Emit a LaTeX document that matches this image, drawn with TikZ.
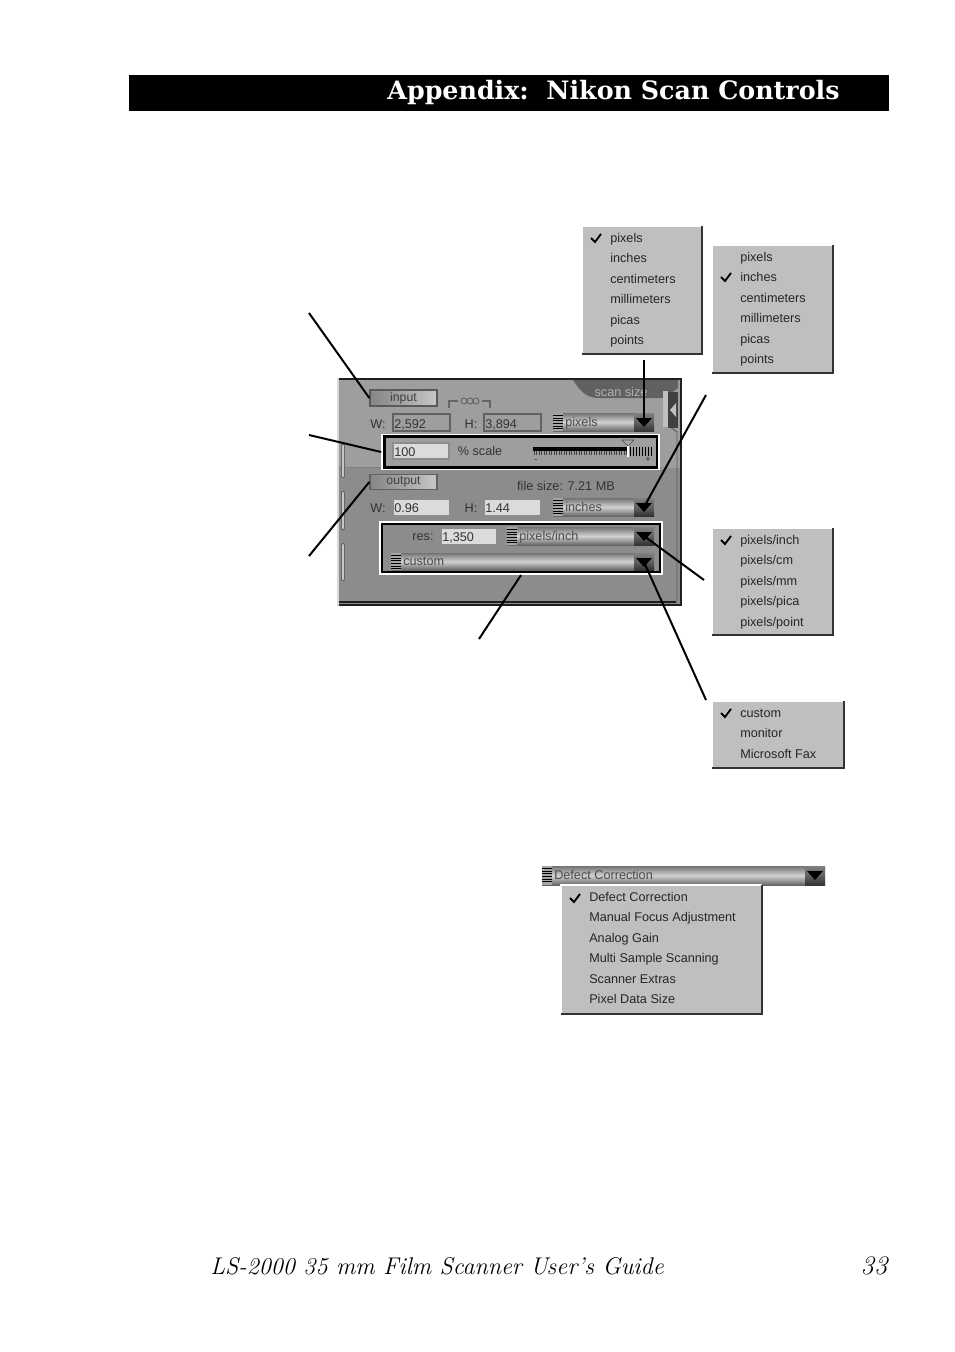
\documentclass[tikz,border=0pt]{standalone}
\usepackage{fontspec}
\newfontfamily\uifont{Liberation Sans}
\newfontfamily\headfont{DejaVu Serif}
\usetikzlibrary{positioning}
\def\px{0.75pt}
\definecolor{panelup}{gray}{0.62}
\definecolor{panellow}{gray}{0.55}
\definecolor{menuface}{gray}{0.75}
\definecolor{fieldface}{gray}{0.86}
\tikzset{
  callout/.style={line width=1.5pt, black},
  menutext/.style={anchor=base west, inner sep=0pt, font=\uifont\fontsize{9.5}{11}\selectfont, text=black!85},
  uitext/.style={anchor=base, inner sep=0pt, font=\uifont\fontsize{9.5}{11}\selectfont, text=black!80},
  dropshade/.style={top color=black!55, bottom color=black!60, middle color=black!18},
  darkshade/.style={top color=black!50, bottom color=black!80, middle color=black!62},
  field/.style={draw=black!45, line width=0.9pt, fill=fieldface},
  dimfield/.style={draw=black!62, line width=1.1pt, fill=panelup},
  panelbtn/.style={line width=1pt, inner sep=0pt, left color=black!48, right color=black!22, text=black!75, font=\uifont\fontsize{9.2}{11}\selectfont},
  handlebar/.style={line cap=round, line width=#1},
  tick/.style={line width=0.5pt, black!75}
}
% menu: name, left, top, right, bottom, items
\newcommand{\menulist}[6]{
  \fill[menuface] (#2,#3) rectangle (#4,#5);
  \draw[white, line width=0.8pt] (#2,#5) -- (#2,#3) -- (#4,#3);
  \draw[black!80, line width=1.1pt] (#2,#5) -- (#4,#5) -- (#4,#3);
  \foreach \entry [count=\i] in {#6}
    \node[menutext] (#1-\i) at (#2+28, {#3+16.5+(\i-1)*20.4}) {\entry};
}
% dropdown: name, left, top, right, bottom, text
\newcommand{\dropdown}[6]{
  \shade[dropshade] (#2,#3) rectangle (#4,#5);
  \fill[black!35] (#2,#3) rectangle ({#2+10},#5);
  \shade[darkshade] ({#4-20},#3) rectangle (#4,#5);
  \foreach \k in {0,...,5}
    \draw[black, line width=0.6pt] (#2,{#3+2.5+\k*2.6}) -- ({#2+10},{#3+2.5+\k*2.6});
  \fill[black] ({#4-18},{#3+5}) -- ({#4-2},{#3+5}) -- ({#4-10},{#3+14}) -- cycle;
  \node[uitext, anchor=base west, text=black!70] (#1text) at (#2+12, {(#3+#5)/2+4}) {#6};
  \coordinate (#1) at ({#4-10},{#3+9});
}
\newcommand{\checkat}[2]{\draw[black, line width=1.4pt] (#1-5,#2) -- (#1-1,#2+4) -- (#1+5,#2-4);}
% link icon between W and H
\newcommand{\linkicon}[2]{
  \draw[#2, line width=1pt] (449,#1+9) -- (449,#1+2) -- (458,#1+2) (490,#1+9) -- (490,#1+2) -- (482,#1+2);
  \foreach \c in {464,470,476} \draw[#2, line width=0.7pt] (\c,#1+2) circle [radius=3];
}
\begin{document}
\begin{tikzpicture}[x=0.75pt,y=-0.75pt]
  \useasboundingbox (0,0) rectangle (954,1352);
  % page header and footer
  \fill[black] (129,75) rectangle (889,111);
  \node[white, font=\headfont\bfseries\fontsize{19}{22}\selectfont, inner sep=0pt] (title) at (613.5,93) {Appendix:\ \ Nikon Scan Controls};
  \node[anchor=base west, inner sep=0pt, font=\itshape\fontsize{18.1}{22}\selectfont] (guide) at (210,1274) {LS-2000 35 mm Film Scanner User’s Guide};
  \node[anchor=base, inner sep=0pt, font=\itshape\fontsize{20}{24}\selectfont] (pageno) at (874,1274) {33};

  % scan size panel
  \fill[panelup] (337,378) rectangle (681,468);
  \fill[panellow] (337,468) rectangle (681,605);
  \draw[black!50, line width=0.7pt] (338,467) -- (661,467);
  \fill[black!62] (573,380) .. controls (582,394) and (588,398) .. (600,398) -- (665,398) -- (678,388) -- (678,380) -- cycle;
  \node[uitext, text=black!30] (scansize) at (621,396) {scan size};
  \draw[black!88, line width=2.2pt] (338,379) -- (681,379) -- (681,605) -- (338,605);
  \draw[black!88, line width=1.6pt] (338,602) -- (676,602);
  \draw[black!65, line width=0.7pt] (677,602) -- (677,432) -- (666,424);
  \fill[black!15] (337,378) rectangle (339,606);
  \fill[black!25] (663,391) rectangle (668,427);
  \fill[black!75] (668,392) rectangle (678,428);
  \fill[black!25] (676,403) -- (670,410) -- (676,417) -- cycle;
  \foreach \ya/\yb in {446/476, 493/528, 545/579} {
    \draw[handlebar=3.2pt, black!60] (343,\ya) -- (343,\yb);
    \draw[handlebar=1.6pt, black!22] (343,\ya) -- (343,\yb);
  }

  % input row
  \node[panelbtn, draw=black!65, minimum width=67*\px, minimum height=16*\px] (inputbtn) at (403.5,398) {input};
  \linkicon{399}{black!60}
  \node[uitext] (winput) at (378,428) {W:};
  \draw[dimfield] (393,414) rectangle (450,431);
  \node[uitext, anchor=base west] (wvalue) at (394,428) {2,592};
  \node[uitext] (hinput) at (471,428) {H:};
  \draw[dimfield] (484,414) rectangle (541,431);
  \node[uitext, anchor=base west] (hvalue) at (485,428) {3,894};
  \dropdown{pixelsdrop}{553}{413}{654}{431}{pixels}

  % scale row
  \draw[black, line width=1.6pt] (384.5,436.5) rectangle (657,467.5);
  \node[draw=white, line width=1.3pt, inner sep=0pt, minimum width=277*\px, minimum height=35*\px] (scalebox) at (520.5,452) {};
  \draw[field] (393,443) rectangle (449,459);
  \node[uitext, anchor=base west] (scalevalue) at (394,456) {100};
  \node[uitext] (scaletext) at (480,455) {\%\ scale};
  \fill[black] (533,447) rectangle (628,451);
  \foreach \t in {534,536.5,...,628}
    \draw[tick] (\t,451) -- (\t,455);
  \foreach \t in {630,633,...,651}
    \draw[tick, black] (\t,447) -- (\t,456);
  \draw[white, line width=1pt] (628,446) -- (628,457);
  \draw[black!70, fill=black!35] (622,440) -- (634,440) -- (628,446) -- cycle;
  \node[uitext, font=\uifont\fontsize{7}{7}\selectfont] (minus) at (536,462) {-};
  \node[uitext, font=\uifont\fontsize{7}{7}\selectfont] (plus) at (648,462) {+};

  % output row
  \node[panelbtn, draw=black!62, minimum width=67*\px, minimum height=15*\px] (outputbtn) at (403.5,482) {output};
  \linkicon{484}{black!45}
  \node[uitext] (filesize) at (566,490) {file size: 7.21 MB};
  \node[uitext] (woutput) at (378,512) {W:};
  \draw[field] (393,499) rectangle (450,516);
  \node[uitext, anchor=base west] (wout) at (394,512) {0.96};
  \node[uitext] (houtput) at (471,512) {H:};
  \draw[field] (484,499) rectangle (541,516);
  \node[uitext, anchor=base west] (hout) at (485,512) {1.44};
  \dropdown{inchesdrop}{553}{498}{654}{516}{inches}

  % resolution rows
  \draw[black, line width=1.1pt] (382,524) rectangle (660,572);
  \node[draw=white, line width=1.6pt, inner sep=0pt, minimum width=282*\px, minimum height=52*\px] (resbox) at (521,548) {};
  \node[uitext] (restext) at (423,540) {res:};
  \draw[field] (441,528) rectangle (497,545);
  \node[uitext, anchor=base west] (resvalue) at (442,541) {1,350};
  \dropdown{resdrop}{507}{527}{654}{545}{pixels/inch}
  \dropdown{customdrop}{391}{553}{654}{570}{custom}

  % popup menus
  \menulist{unitsa}{582}{226}{702}{354}{pixels,inches,centimeters,millimeters,picas,points}
  \checkat{596}{238}
  \menulist{unitsb}{712}{245}{833}{373}{pixels,inches,centimeters,millimeters,picas,points}
  \checkat{726}{277}
  \menulist{resmenu}{712}{528}{833}{635}{pixels/inch,pixels/cm,pixels/mm,pixels/pica,pixels/point}
  \checkat{726}{540}
  \menulist{custommenu}{712}{701}{844}{768}{custom,monitor,Microsoft Fax}
  \checkat{726}{713}

  % defect correction menu
  \dropdown{defectdrop}{542}{866}{825}{885}{Defect Correction}
  \menulist{defectmenu}{561}{885}{762}{1014}{Defect Correction,Manual Focus Adjustment,Analog Gain,Multi Sample Scanning,Scanner Extras,Pixel Data Size}
  \checkat{575}{898}

  % callout lines
  \coordinate (ca) at (309,313);
  \coordinate (cb) at (309,435);
  \coordinate (cc) at (309,556);
  \coordinate (cd) at (644,360);
  \coordinate (ce) at (706,395);
  \coordinate (cf) at (704,580);
  \coordinate (cg) at (706,700);
  \coordinate (ch) at (479,639);
  \draw[callout] (ca) -- (inputbtn.west);
  \draw[callout] (cb) -- (scalebox.west);
  \draw[callout] (cc) -- (outputbtn.west);
  \draw[callout] (cd) -- (pixelsdrop);
  \draw[callout] (ce) -- (inchesdrop);
  \draw[callout] (cf) -- (resdrop);
  \draw[callout] (cg) -- (customdrop);
  \draw[callout] (ch) -- (resbox.south);
\end{tikzpicture}
\end{document}
